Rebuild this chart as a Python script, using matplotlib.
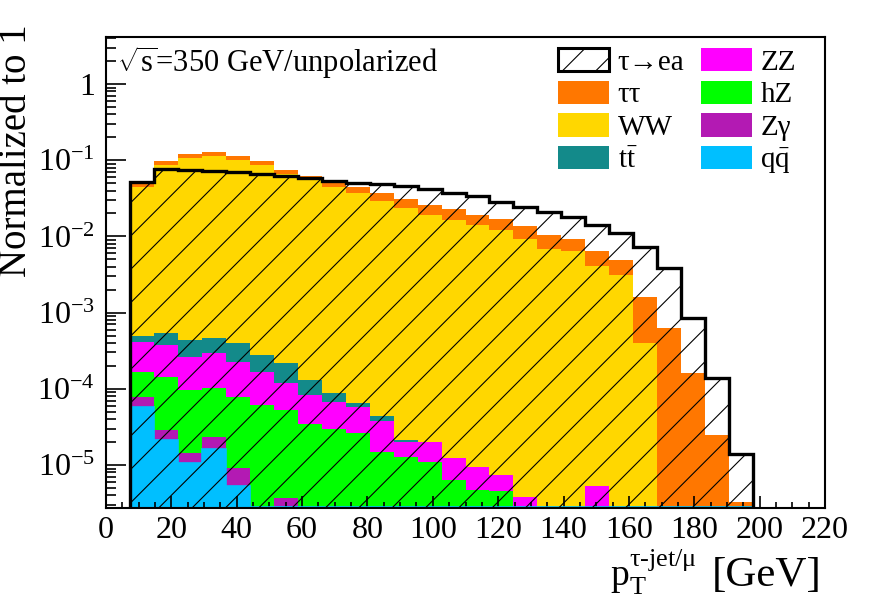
#! /usr/bin python
"""
Stacked background histograms (normalized) with the tau->ea signal drawn
on top as a hatched outline, ROOT style, log y axis.
"""
import numpy as np
import matplotlib
matplotlib.use('Agg')
import matplotlib.pyplot as plt
from matplotlib.patches import Patch
from matplotlib.ticker import (LogLocator, MultipleLocator, FixedLocator,
                               FuncFormatter, NullFormatter)

# 30 bins from 0 to 220 GeV
n_bins = 30
x_lo, x_hi = 0.0, 220.0

# bin contents, bin 0 .. bin 29
signal = [0, 0.0513, 0.0774, 0.0744, 0.0728, 0.0694, 0.0659, 0.0626, 0.0584, 0.0538,
          0.0507, 0.0487, 0.0459, 0.0419, 0.0374, 0.0339, 0.0285, 0.0245, 0.0211, 0.0178,
          0.0141, 0.0110, 0.00733, 0.00381, 8.42e-4, 1.37e-4, 1.39e-5, 0, 0, 0]
tautau = [0, 0.0038, 0.0120, 0.0127, 0.0136, 0.0119, 0.0103, 0.0078, 0.0070, 0.0081,
          0.0081, 0.0074, 0.0073, 0.0067, 0.0063, 0.0050, 0.0046, 0.0044, 0.0036, 0.0028,
          0.0024, 0.0018, 1.22e-3, 6.28e-4, 1.61e-4, 2.48e-5, 3.27e-6, 0, 0, 0]
ww = [0, 0.0444, 0.0860, 0.1075, 0.1141, 0.1002, 0.0862, 0.0657, 0.0544, 0.0440,
      0.0367, 0.0294, 0.0234, 0.0191, 0.0164, 0.0141, 0.0121, 0.00925, 0.00677, 0.00649,
      0.00408, 0.00311, 3.99e-4, 0, 0, 0, 0, 0, 0, 0]
ttbar = [0, 7.8e-5, 1.59e-4, 1.73e-4, 1.68e-4, 1.68e-4, 1.10e-4, 9.8e-5, 4.74e-5, 2.12e-5,
         8.6e-6, 5.9e-6, 1.1e-6, 0, 0, 0, 0, 0, 0, 0,
         0, 0, 0, 0, 0, 0, 0, 0, 0, 0]
zz = [0, 2.47e-4, 2.34e-4, 1.67e-4, 1.91e-4, 1.48e-4, 1.06e-4, 6.53e-5, 4.84e-5, 3.83e-5,
      3.10e-5, 2.31e-5, 7.4e-6, 9.2e-6, 5.9e-6, 4.8e-6, 2.8e-6, 3.84e-6, 0, 0,
      5.3e-6, 0, 0, 0, 0, 0, 0, 0, 0, 0]
hz = [0, 9.03e-5, 1.128e-4, 8.2e-5, 7.8e-5, 6.97e-5, 6.12e-5, 4.9e-5, 3.45e-5, 2.94e-5,
      2.61e-5, 1.5e-5, 1.285e-5, 1.104e-5, 6.35e-6, 4.7e-6, 4.6e-6, 0, 0, 0,
      0, 0, 0, 0, 0, 0, 0, 0, 0, 0]
zgamma = [0, 1.91e-5, 7.5e-6, 3.7e-6, 7.4e-6, 3.75e-6, 0, 3.66e-6, 0, 0,
          0, 0, 0, 0, 0, 0, 0, 0, 0, 0,
          0, 0, 0, 0, 0, 0, 0, 0, 0, 0]
qqbar = [0, 5.82e-5, 2.13e-5, 1.05e-5, 1.607e-5, 5.3e-6, 0, 0, 0, 0,
         0, 0, 0, 0, 0, 0, 0, 0, 0, 0,
         0, 0, 0, 0, 0, 0, 0, 0, 0, 0]

# stack order, bottom first
bkg_labels = [r'$\mathrm{q\bar{q}}$', 'Zγ', 'hZ', 'ZZ', r'$\mathrm{t\bar{t}}$', 'WW', 'ττ']
bkg_values = [qqbar, zgamma, hz, zz, ttbar, ww, tautau]
bkg_colors = ['#00BFFF', '#B31AB3', '#00FF00', '#FF00FF', '#138A8A', '#FFD700', '#FF7700']

y_lo, y_hi = 2.73e-6, 4.14
y_decades = [1e-5, 1e-4, 1e-3, 1e-2, 1e-1, 1.0]

plt.rcParams['font.family'] = ['Liberation Serif', 'DejaVu Serif']
plt.rcParams['mathtext.fontset'] = 'custom'
plt.rcParams['mathtext.rm'] = 'Liberation Serif'
plt.rcParams['mathtext.it'] = 'Liberation Serif:italic'
plt.rcParams['hatch.linewidth'] = 0.4


def draw_stack(ax, edges):
    """Draw the background stack the way THStack does: every cumulative
    histogram filled down to the floor, largest first."""
    floor = y_lo * 1e-3
    cum = np.cumsum(np.array(bkg_values, dtype=float), axis=0)
    for k in range(len(bkg_values) - 1, -1, -1):
        ax.stairs(np.maximum(cum[k], floor), edges, baseline=floor, fill=True,
                  color=bkg_colors[k], lw=0, zorder=1)
    # empty qqbar bins are drawn as a line on the bottom of the frame
    nonzero = np.nonzero(cum[-1])[0]
    first, last = nonzero[0], nonzero[-1] + 1
    ax.stairs(np.maximum(cum[0][first:last], y_lo * 1.04), edges[first:last + 1],
              color=bkg_colors[0], lw=0.6, zorder=2)


def draw_signal(ax, edges):
    sig = np.maximum(np.array(signal), y_lo * 0.5)
    ax.stairs(sig, edges, baseline=y_lo * 0.5, fill=True, facecolor='none',
              edgecolor='black', hatch='//', lw=0, zorder=3)
    ax.stairs(sig, edges, baseline=y_lo * 0.5, fill=False, color='black',
              lw=1.2, zorder=4)


fig = plt.figure(figsize=(4.44, 3.015), dpi=200)
fig.patch.set_fc('white')
ax = fig.add_axes([106 / 888, 1 - 508 / 603, 719 / 888, 471 / 603])

edges = np.linspace(x_lo, x_hi, n_bins + 1)
draw_stack(ax, edges)
draw_signal(ax, edges)

ax.set_yscale('log')
ax.set_xlim(x_lo, x_hi)
ax.set_ylim(y_lo, y_hi)

for side in ax.spines.values():
    side.set_linewidth(0.75)
    side.set_zorder(5)

# ROOT like ticks: inside, bottom and left only
ax.xaxis.set_major_locator(MultipleLocator(20))
ax.xaxis.set_minor_locator(MultipleLocator(5))
ax.yaxis.set_major_locator(FixedLocator(y_decades))
ax.yaxis.set_minor_locator(LogLocator(base=10, subs=np.arange(2, 10), numticks=20))
ax.yaxis.set_minor_formatter(NullFormatter())


def decade_label(v, pos):
    e = int(round(np.log10(v)))
    if e == 0:
        return '1'
    return r'$10^{%d}$' % e


ax.yaxis.set_major_formatter(FuncFormatter(decade_label))
ax.tick_params(axis='both', which='both', direction='in', top=False, right=False,
               width=0.6, labelsize=11.5)
ax.tick_params(axis='x', which='major', length=4.3, pad=3)
ax.tick_params(axis='x', which='minor', length=2.2)
ax.tick_params(axis='y', which='major', length=7.2, pad=4)
ax.tick_params(axis='y', which='minor', length=3.6)

fig.text(17 / 888, 1 - 151 / 603, 'Normalized to 1', rotation=90, ha='center',
         va='center', fontsize=14)
# x title in two pieces, the unit is set a bit larger than the variable
fig.text(697 / 888, 1 - 586 / 603,
         r'$\mathrm{p}_{\mathrm{T}}^{\mathrm{τ\text{-}jet/μ}}$',
         ha='right', va='baseline', fontsize=13.5)
fig.text(822 / 888, 1 - 586 / 603, '[GeV]', ha='right', va='baseline', fontsize=15.5)
fig.text(117 / 888, 1 - 63 / 603, r'$\sqrt{\mathrm{s}}$=350 GeV/unpolarized',
         ha='left', va='center', fontsize=11)

# legend, two columns
handles = [Patch(facecolor='white', edgecolor='black', hatch='//', lw=1.1)]
labels = ['τ→ea']
for k in [6, 5, 4, 3, 2, 1, 0]:
    handles.append(Patch(facecolor=bkg_colors[k], edgecolor=bkg_colors[k], lw=0))
    labels.append(bkg_labels[k])
ax.legend(handles, labels, ncol=2, frameon=False, fontsize=10.5,
          loc='upper left', bbox_to_anchor=(558 / 888, 1 - 48 / 603),
          bbox_transform=fig.transFigure, borderpad=0, borderaxespad=0,
          handlelength=1.75, handleheight=0.85, handletextpad=0.3,
          labelspacing=0.17, columnspacing=0.55)

fig.savefig('out.png', dpi=200)
